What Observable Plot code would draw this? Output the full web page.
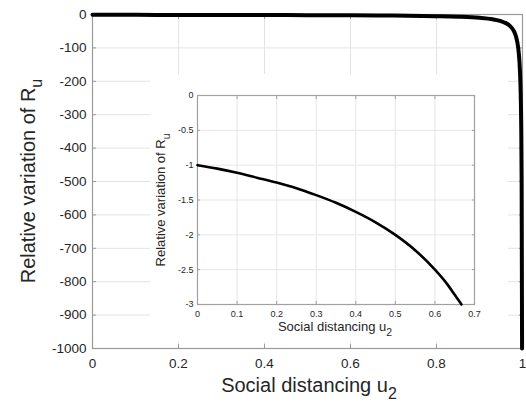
<!DOCTYPE html>
<html>
<head>
<meta charset="utf-8">
<script src="https://cdn.jsdelivr.net/npm/d3@7"></script>
<script src="https://cdn.jsdelivr.net/npm/@observablehq/plot@0.6"></script>
<style>
  body { margin: 0; background: #fff; }
  #wrap { position: relative; width: 526px; height: 404px; overflow: hidden; background: #fff; }
  #wrap svg { position: absolute; }
</style>
</head>
<body>
<div id="wrap"></div>
<script>
// ---- data ----
const mainU = [0, 0.1, 0.2, 0.3, 0.4, 0.5, 0.6, 0.7, 0.8, 0.85, 0.9, 0.93, 0.95, 0.96, 0.97, 0.98, 0.985, 0.99, 0.993, 0.995, 0.997, 0.998, 0.999];
const mainR = [-1, -1.11, -1.25, -1.43, -1.67, -2, -2.5, -3.33, -5, -6.67, -10, -14.3, -20, -25, -33.3, -50, -66.7, -100, -143, -200, -333, -500, -1000];
const insetU = [0, 0.05, 0.1, 0.15, 0.2, 0.25, 0.3, 0.35, 0.4, 0.45, 0.5, 0.55, 0.6, 0.63, 0.65, 0.667];
const insetR = [-1, -1.05, -1.11, -1.18, -1.25, -1.33, -1.43, -1.54, -1.67, -1.82, -2, -2.22, -2.5, -2.7, -2.86, -3];
const mainXTicks = [0, 0.2, 0.4, 0.6, 0.8, 1];
const mainYTicks = [0, -100, -200, -300, -400, -500, -600, -700, -800, -900, -1000];
const insetXTicks = [0, 0.1, 0.2, 0.3, 0.4, 0.5, 0.6, 0.7];
const insetYTicks = [0, -0.5, -1, -1.5, -2, -2.5, -3];
const xLabel = "Social distancing u";
const xSub = "2";
const yLabel = "Relative variation of R";
const ySub = "u";

const font = "'Liberation Sans', Arial, Helvetica, sans-serif";
const mainData = mainU.map((u, i) => ({u, r: mainR[i]}));
const insetData = insetU.map((u, i) => ({u, r: insetR[i]}));
const fmt = d => String(d);
const blank = () => "";

function inwardTicks(xt, yt, size, color) {
  return [
    Plot.axisX(xt, {anchor: "bottom", tickSize: -size, tickFormat: blank, label: null, stroke: color}),
    Plot.axisX(xt, {anchor: "top", tickSize: -size, tickFormat: blank, label: null, stroke: color}),
    Plot.axisY(yt, {anchor: "left", tickSize: -size, tickFormat: blank, label: null, stroke: color}),
    Plot.axisY(yt, {anchor: "right", tickSize: -size, tickFormat: blank, label: null, stroke: color})
  ];
}

const mainPlot = Plot.plot({
  width: 526, height: 404,
  marginLeft: 92, marginRight: 4, marginTop: 14, marginBottom: 56,
  style: {fontFamily: font, fontSize: "13.5px", color: "#262626", background: "transparent"},
  x: {domain: [0, 1]},
  y: {domain: [-1000, 0]},
  marks: [
    Plot.gridX(mainXTicks, {stroke: "#e3e3e3", strokeOpacity: 1}),
    Plot.gridY(mainYTicks, {stroke: "#e3e3e3", strokeOpacity: 1}),
    ...inwardTicks(mainXTicks, mainYTicks, 4, "#9a9a9a"),
    Plot.frame({stroke: "#9a9a9a", strokeWidth: 1.2}),
    Plot.axisX(mainXTicks, {tickSize: 0, tickPadding: 10, tickFormat: fmt, label: null, fill: "#262626"}),
    Plot.axisY(mainYTicks, {tickSize: 0, tickPadding: 6, tickFormat: fmt, label: null, fill: "#262626"}),
    Plot.line(mainData, {x: "u", y: "r", stroke: "black", strokeWidth: 4, curve: "monotone-x"})
  ]
});

const insetPlot = Plot.plot({
  width: 358, height: 268,
  marginLeft: 47, marginRight: 34, marginTop: 21, marginBottom: 38,
  style: {fontFamily: font, fontSize: "9px", color: "#262626", background: "#fff"},
  x: {domain: [0, 0.7]},
  y: {domain: [-3, 0]},
  marks: [
    Plot.gridX(insetXTicks, {stroke: "#e6e6e6", strokeOpacity: 1}),
    Plot.gridY(insetYTicks, {stroke: "#e6e6e6", strokeOpacity: 1}),
    ...inwardTicks(insetXTicks, insetYTicks, 3, "#a0a0a0"),
    Plot.frame({stroke: "#a0a0a0", strokeWidth: 1.2}),
    Plot.axisX(insetXTicks, {tickSize: 0, tickPadding: 6, tickFormat: fmt, label: null, fill: "#262626"}),
    Plot.axisY(insetYTicks, {tickSize: 0, tickPadding: 4, tickFormat: fmt, label: null, fill: "#262626"}),
    Plot.line(insetData, {x: "u", y: "r", stroke: "black", strokeWidth: 2.6, curve: "monotone-x"})
  ]
});

const wrap = document.getElementById("wrap");
mainPlot.style.left = "0px"; mainPlot.style.top = "0px";
insetPlot.style.left = "150px"; insetPlot.style.top = "74px";
wrap.appendChild(mainPlot);
wrap.appendChild(insetPlot);

function addLabel(svg, x, y, rotate, size, main, sub) {
  const t = d3.select(svg).append("text")
    .attr("transform", `translate(${x},${y})` + (rotate ? " rotate(-90)" : ""))
    .attr("text-anchor", "middle")
    .attr("font-family", font)
    .attr("font-size", size)
    .attr("fill", "#262626");
  t.append("tspan").text(main);
  t.append("tspan").attr("font-size", size * 0.8).attr("dy", size * 0.35).text(sub);
}
addLabel(mainPlot, 309, 392, false, 20, xLabel, xSub);
addLabel(mainPlot, 35, 181, true, 20, yLabel, ySub);
addLabel(insetPlot, 185, 257, false, 13, xLabel, xSub);
addLabel(insetPlot, 15, 126, true, 13, yLabel, ySub);
</script>
</body>
</html>
